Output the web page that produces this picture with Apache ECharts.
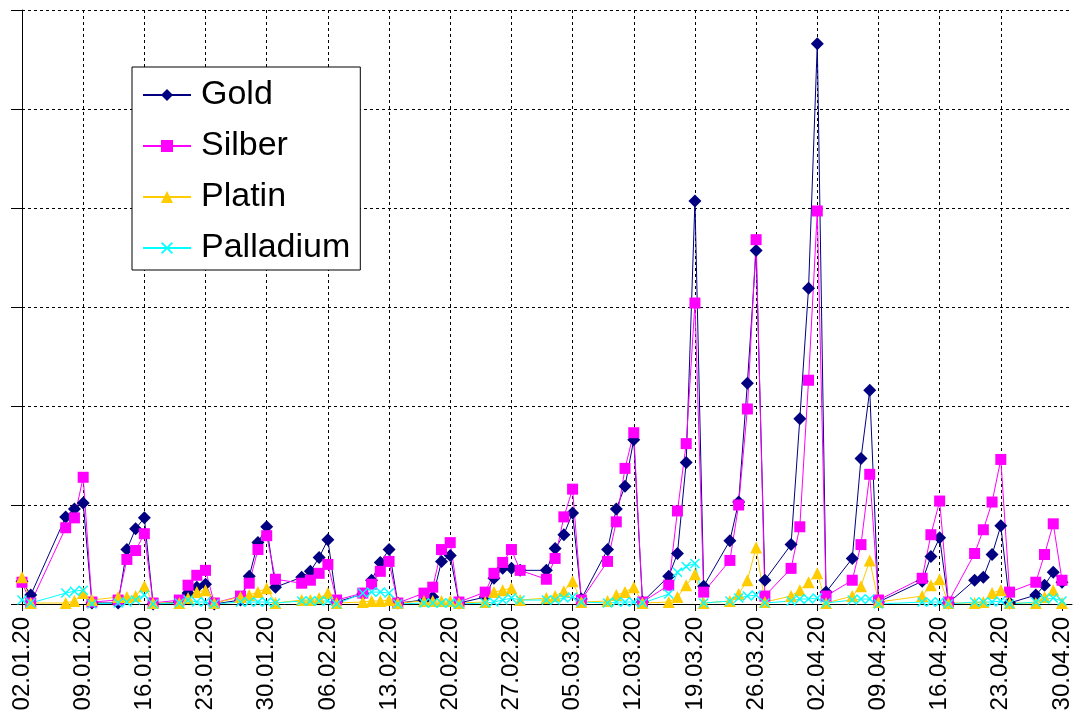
<!DOCTYPE html>
<html>
<head>
<meta charset="utf-8">
<script src="https://cdn.jsdelivr.net/npm/echarts@6/dist/echarts.min.js"></script>
<style>
html, body { margin: 0; padding: 0; background: #fff; }
#chart { width: 1074px; height: 716px; }
</style>
</head>
<body>
<div id="chart"></div>
<script>
// Handelstage (dd.mm.yy) und Werte je Metall
const dates = [
  '02.01.20','03.01.20',
  '07.01.20','08.01.20','09.01.20','10.01.20',
  '13.01.20','14.01.20','15.01.20','16.01.20','17.01.20',
  '20.01.20','21.01.20','22.01.20','23.01.20','24.01.20',
  '27.01.20','28.01.20','29.01.20','30.01.20','31.01.20',
  '03.02.20','04.02.20','05.02.20','06.02.20','07.02.20',
  '10.02.20','11.02.20','12.02.20','13.02.20','14.02.20',
  '17.02.20','18.02.20','19.02.20','20.02.20','21.02.20',
  '24.02.20','25.02.20','26.02.20','27.02.20','28.02.20',
  '02.03.20','03.03.20','04.03.20','05.03.20','06.03.20',
  '09.03.20','10.03.20','11.03.20','12.03.20','13.03.20',
  '16.03.20','17.03.20','18.03.20','19.03.20','20.03.20',
  '23.03.20','24.03.20','25.03.20','26.03.20','27.03.20',
  '30.03.20','31.03.20','01.04.20','02.04.20','03.04.20',
  '06.04.20','07.04.20','08.04.20','09.04.20',
  '14.04.20','15.04.20','16.04.20','17.04.20',
  '20.04.20','21.04.20','22.04.20','23.04.20','24.04.20',
  '27.04.20','28.04.20','29.04.20','30.04.20'
];

const gold = [
  2.3, 0.9,
  8.8, 9.6, 10.2, 0.1,
  0.1, 5.5, 7.6, 8.7, 0.0,
  0.2, 1.1, 1.7, 2.0, 0.0,
  0.4, 2.8, 6.2, 7.8, 1.7,
  2.7, 3.3, 4.7, 6.5, 0.2,
  1.0, 2.4, 4.2, 5.5, 0.1,
  0.4, 0.7, 4.3, 4.9, 0.1,
  0.7, 2.6, 3.6, 3.6, 3.4,
  3.4, 5.6, 7.0, 9.2, 0.5,
  5.5, 9.6, 11.9, 16.6, 0.2,
  2.8, 5.1, 14.3, 40.7, 1.8,
  6.4, 10.3, 22.3, 35.7, 2.4,
  6.0, 18.7, 31.9, 56.6, 1.2,
  4.6, 14.7, 21.6, 0.2,
  2.3, 4.8, 6.7, 0.1,
  2.4, 2.7, 5.0, 7.9, 0.1,
  0.9, 1.9, 3.2, 2.2
];

const silber = [
  2.2, 0.1,
  7.7, 8.7, 12.8, 0.2,
  0.4, 4.5, 5.4, 7.1, 0.1,
  0.4, 1.9, 2.9, 3.4, 0.1,
  0.8, 2.1, 5.5, 6.9, 2.5,
  2.1, 2.4, 3.1, 4.0, 0.4,
  1.1, 2.0, 3.3, 4.3, 0.1,
  1.1, 1.7, 5.5, 6.2, 0.2,
  1.2, 3.1, 4.2, 5.5, 3.4,
  2.5, 4.6, 8.8, 11.6, 0.4,
  4.3, 8.3, 13.7, 17.3, 0.2,
  1.9, 9.4, 16.2, 30.4, 1.2,
  4.4, 10.0, 19.7, 36.8, 0.8,
  3.6, 7.8, 22.6, 39.7, 0.8,
  2.4, 6.0, 13.1, 0.4,
  2.6, 7.0, 10.4, 0.2,
  5.1, 7.5, 10.3, 14.6, 1.2,
  2.2, 5.0, 8.1, 2.4
];

const platin = [
  2.7, 0.1,
  0.1, 0.3, 1.1, 0.4,
  0.7, 0.7, 0.8, 1.8, 0.1,
  0.1, 0.6, 1.2, 1.4, 0.1,
  0.7, 0.9, 1.2, 1.6, 0.1,
  0.4, 0.4, 0.6, 1.1, 0.1,
  0.2, 0.3, 0.3, 0.4, 0.1,
  0.3, 0.3, 0.3, 0.3, 0.1,
  0.2, 1.2, 1.4, 1.6, 0.4,
  0.6, 0.8, 1.3, 2.3, 0.2,
  0.3, 0.9, 1.2, 1.7, 0.1,
  0.2, 0.7, 1.9, 3.0, 0.1,
  0.3, 1.0, 2.4, 5.7, 0.2,
  0.8, 1.4, 2.2, 3.1, 0.1,
  0.8, 1.8, 4.4, 0.2,
  0.8, 1.9, 2.5, 0.1,
  0.1, 0.2, 1.1, 1.4, 0.1,
  0.1, 0.7, 1.4, 0.1
];

const palladium = [
  0.4, 0.1,
  1.1, 1.3, 1.4, 0.0,
  0.1, 0.2, 0.4, 0.9, 0.0,
  0.1, 0.4, 0.2, 0.2, 0.0,
  0.2, 0.2, 0.2, 0.2, 0.1,
  0.3, 0.3, 0.3, 0.3, 0.0,
  1.1, 1.2, 1.2, 1.1, 0.0,
  0.1, 0.1, 0.1, 0.1, 0.0,
  0.1, 0.2, 0.4, 0.6, 0.4,
  0.4, 0.4, 0.6, 0.7, 0.2,
  0.1, 0.2, 0.2, 0.2, 0.1,
  1.0, 3.2, 3.8, 4.1, 0.1,
  0.3, 0.6, 0.8, 0.9, 0.1,
  0.3, 0.5, 0.5, 0.6, 0.1,
  0.4, 0.5, 0.5, 0.0,
  0.2, 0.2, 0.2, 0.0,
  0.2, 0.2, 0.2, 0.3, 0.0,
  0.2, 0.5, 0.6, 0.3
];

const tickLabels = [
  '02.01.20','09.01.20','16.01.20','23.01.20','30.01.20','06.02.20',
  '13.02.20','20.02.20','27.02.20','05.03.20','12.03.20','19.03.20',
  '26.03.20','02.04.20','09.04.20','16.04.20','23.04.20','30.04.20'
];

const names = ['Gold', 'Silber', 'Platin', 'Palladium'];

// Tage seit 02.01.20
function dayIndex(s) {
  const p = s.split('.').map(Number);
  return Math.round((Date.UTC(2000 + p[2], p[1] - 1, p[0]) - Date.UTC(2020, 0, 2)) / 86400000);
}
function points(values) {
  return dates.map(function (d, i) { return [dayIndex(d), values[i]]; });
}
const tickDays = tickLabels.map(dayIndex);

const font = '"Liberation Sans", Arial, sans-serif';
const dash = { type: [3, 3], color: '#000', width: 1 };
const crossPath = 'path://M0,1L1,0L5,4L9,0L10,1L6,5L10,9L9,10L5,6L1,10L0,9L4,5Z';

function lineSeries(name, values, color, symbol, size) {
  return {
    name: name,
    type: 'line',
    data: points(values),
    symbol: symbol,
    symbolSize: size,
    itemStyle: { color: color },
    lineStyle: { color: color, width: 1 },
    emphasis: { disabled: true }
  };
}

const myChart = echarts.init(document.getElementById('chart'));
myChart.setOption({
  animation: false,
  backgroundColor: '#fff',
  grid: { left: 22, right: 0, top: 10, bottom: 112 },
  legend: {
    data: names,
    orient: 'vertical',
    left: 132,
    top: 67,
    padding: [11, 10, 5, 10],
    itemGap: 17,
    itemWidth: 48,
    itemHeight: 15,
    borderColor: '#000',
    borderWidth: 1,
    backgroundColor: '#fff',
    textStyle: { fontSize: 34, color: '#000', fontFamily: font, padding: [0, 0, 0, 5] }
  },
  xAxis: {
    type: 'value',
    min: 0,
    max: 120.14,
    interval: 7,
    axisLine: { lineStyle: { color: '#000', width: 1 } },
    axisTick: { length: 7, customValues: tickDays, lineStyle: { color: '#000' } },
    axisLabel: {
      customValues: tickDays,
      rotate: 90,
      margin: 13,
      fontSize: 24,
      fontFamily: font,
      color: '#000',
      formatter: function (v) {
        const i = tickDays.indexOf(Math.round(v));
        return i >= 0 ? tickLabels[i] : '';
      }
    },
    splitLine: { show: true, showMaxLine: false, lineStyle: dash }
  },
  yAxis: {
    type: 'value',
    min: 0,
    max: 60,
    interval: 10,
    axisLine: { show: true, lineStyle: { color: '#000', width: 1 } },
    axisTick: { show: true, length: 11, lineStyle: { color: '#000' } },
    axisLabel: { show: false },
    splitLine: { show: true, lineStyle: dash }
  },
  series: [
    lineSeries('Gold', gold, '#000080', 'diamond', 13),
    lineSeries('Silber', silber, '#ff00ff', 'rect', 11),
    lineSeries('Platin', platin, '#ffcc00', 'triangle', 12),
    lineSeries('Palladium', palladium, '#00ffff', crossPath, 10)
  ]
});
</script>
</body>
</html>
